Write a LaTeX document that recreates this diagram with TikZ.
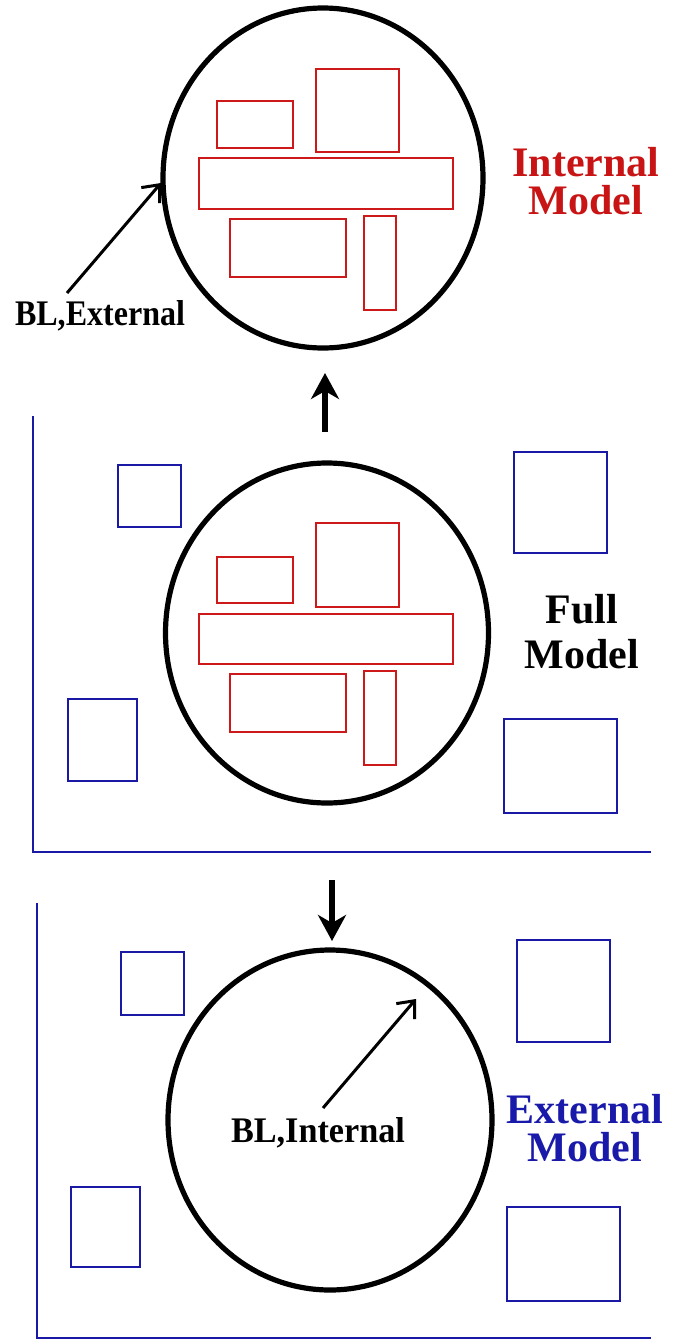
\documentclass[tikz,border=0pt]{standalone}
\usepackage{fontspec}
\setmainfont{Liberation Serif}
\newfontfamily\narrowa[FakeStretch=0.89]{Liberation Serif}
\newfontfamily\narrowb[FakeStretch=0.95]{Liberation Serif}
\usetikzlibrary{shapes.geometric,arrows.meta}
\definecolor{boxred}{RGB}{205,25,25}
\definecolor{boxblue}{RGB}{25,25,165}
\definecolor{txtred}{RGB}{200,20,20}
\definecolor{txtblue}{RGB}{25,25,170}
\newcommand\mybox[6]{\node[#1, minimum width={(#5-#3)*0.5pt}, minimum height={(#6-#4)*0.5pt}] (#2) at ({(#3+#5)/2},{(#4+#6)/2}) {};}
\begin{document}
\begin{tikzpicture}[x=0.5pt,y=-0.5pt,
 oval/.style={draw=black, line width=2.6pt, ellipse, inner sep=0pt},
 redbox/.style={draw=boxred, line width=1.2pt, rectangle, inner sep=0pt},
 bluebox/.style={draw=boxblue, line width=1.2pt, rectangle, inner sep=0pt},
 axisline/.style={draw=boxblue, line width=1.2pt},
 bigarrow/.style={line width=3pt, -{Stealth[length=13pt,width=14pt,inset=4pt]}},
 thinarrow/.style={line width=1.5pt, -{Straight Barb[length=7pt,width=12pt,line width=1.5pt]}},
 title/.style={font=\fontsize{21}{19}\selectfont\bfseries, align=center},
 bllabel/.style={font=\fontsize{18}{20}\selectfont\bfseries}
]
\useasboundingbox (0,0) rectangle (678,1339);
\fill[white] (0,0) rectangle (678,1339);

% ---------- top: internal model ----------
\node[oval, minimum width=160pt, minimum height=170pt] (topoval) at (323,178) {};
\mybox{redbox}{tA}{217}{101}{293}{148}
\mybox{redbox}{tB}{316}{69}{399}{152}
\mybox{redbox}{tC}{199}{158}{453}{209}
\mybox{redbox}{tD}{230}{219}{346}{277}
\mybox{redbox}{tE}{364}{216}{396}{310}
\node[title, text=txtred] (intlabel) at (586,181) {Internal\\Model};
\node[bllabel, anchor=base] (blext) at (100,325) {\narrowa BL,External};
\coordinate (blextfrom) at (67,293);
\coordinate (blextto) at (161,183);
\draw[thinarrow] (blextfrom) -- (blextto);

% ---------- up arrow ----------
\coordinate (upfrom) at (325,432);
\coordinate (upto) at (325,373);
\draw[bigarrow] (upfrom) -- (upto);

% ---------- middle: full model ----------
\draw[axisline] (33,416) coordinate (maxtop) -- (33,852) coordinate (maxcorner) -- (651,852) coordinate (maxright);
\node[oval, minimum width=161.5pt, minimum height=170pt] (midoval) at (327,633) {};
\mybox{redbox}{mA}{217}{557}{293}{603}
\mybox{redbox}{mB}{316}{523}{399}{607}
\mybox{redbox}{mC}{199}{614}{453}{664}
\mybox{redbox}{mD}{230}{674}{346}{732}
\mybox{redbox}{mE}{364}{671}{396}{765}
\mybox{bluebox}{mb1}{118}{465}{181}{527}
\mybox{bluebox}{mb2}{514}{452}{607}{553}
\mybox{bluebox}{mb3}{68}{699}{137}{781}
\mybox{bluebox}{mb4}{504}{719}{617}{813}
\node[title, font=\fontsize{21}{22.5}\selectfont\bfseries, text=black] (fulllabel) at (582,632) {Full\\Model};

% ---------- down arrow ----------
\coordinate (downfrom) at (332,880);
\coordinate (downto) at (332,941);
\draw[bigarrow] (downfrom) -- (downto);

% ---------- bottom: external model ----------
\draw[axisline] (37,903) coordinate (baxtop) -- (37,1338) coordinate (baxcorner) -- (651,1338) coordinate (baxright);
\node[oval, minimum width=162pt, minimum height=170pt] (botoval) at (330,1120) {};
\mybox{bluebox}{bb1}{121}{952}{184}{1015}
\mybox{bluebox}{bb2}{517}{940}{610}{1042}
\mybox{bluebox}{bb3}{71}{1187}{140}{1267}
\mybox{bluebox}{bb4}{507}{1207}{620}{1301}
\node[title, text=txtblue] (extlabel) at (585,1128) {External\\Model};
\node[bllabel, anchor=base] (blint) at (318,1142) {\narrowb BL,Internal};
\coordinate (blintfrom) at (323,1108);
\coordinate (blintto) at (416,999);
\draw[thinarrow] (blintfrom) -- (blintto);
\end{tikzpicture}
\end{document}
